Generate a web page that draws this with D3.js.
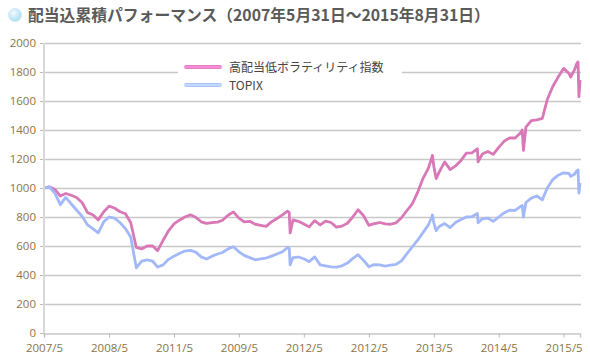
<!DOCTYPE html>
<html>
<head>
<meta charset="utf-8">
<script src="https://cdn.jsdelivr.net/npm/d3@7"></script>
<style>
  body { margin: 0; background: #fff; }
  svg text { font-family: "Noto Sans CJK JP", "Noto Sans", sans-serif; }
</style>
</head>
<body>
<svg id="chart" width="590" height="360"></svg>
<script>
// Data
const dates = [
  "2007-05-31","2007-06-30","2007-07-31","2007-08-31","2007-09-30","2007-10-31","2007-11-30","2007-12-31",
  "2008-01-31","2008-02-29","2008-03-31","2008-04-30","2008-05-31","2008-06-30","2008-07-31","2008-08-31",
  "2008-09-30","2008-10-31","2008-11-30","2008-12-31","2009-01-31","2009-02-28","2009-03-31","2009-04-30",
  "2009-05-31","2009-06-30","2009-07-31","2009-08-31","2009-09-30","2009-10-31","2009-11-30","2009-12-31",
  "2010-01-31","2010-02-28","2010-03-31","2010-04-30","2010-05-31","2010-06-30","2010-07-31","2010-08-31",
  "2010-09-30","2010-10-31","2010-11-30","2010-12-31","2011-01-31","2011-02-28","2011-03-10","2011-03-15",
  "2011-03-31","2011-04-30","2011-05-31","2011-06-30","2011-07-31","2011-08-31","2011-09-30","2011-10-31",
  "2011-11-30","2011-12-31","2012-01-31","2012-02-29","2012-03-31","2012-04-30","2012-05-31","2012-06-30",
  "2012-07-31","2012-08-31","2012-09-30","2012-10-31","2012-11-30","2012-12-31","2013-01-31","2013-02-28",
  "2013-03-31","2013-04-30","2013-05-20","2013-05-23","2013-05-31","2013-06-13","2013-06-30","2013-07-31",
  "2013-08-31","2013-09-30","2013-10-31","2013-11-30","2013-12-31","2014-01-31","2014-02-04","2014-02-28",
  "2014-03-31","2014-04-30","2014-05-31","2014-06-30","2014-07-31","2014-08-31","2014-09-30","2014-10-10",
  "2014-10-17","2014-10-31","2014-11-30","2014-12-31","2015-01-31","2015-02-28","2015-03-31","2015-04-30",
  "2015-05-31","2015-06-30","2015-07-10","2015-07-31","2015-08-12","2015-08-20","2015-08-25","2015-08-31"
];

const highDividend = [
  1000,1008,990,945,962,950,935,900,
  830,815,780,835,875,862,836,822,
  760,590,580,600,600,568,640,705,
  752,778,800,815,798,767,756,762,
  765,778,812,835,792,766,770,750,
  743,735,766,790,815,840,830,690,
  780,770,752,732,775,745,772,762,
  730,737,757,798,850,810,742,755,
  762,752,750,760,795,845,893,968,
  1065,1135,1210,1225,1150,1065,1110,1180,
  1127,1152,1190,1240,1242,1270,1180,1235,
  1252,1232,1280,1322,1345,1345,1380,1400,
  1260,1420,1465,1470,1480,1610,1700,1765,
  1825,1790,1765,1815,1855,1870,1630,1745
];

const topix = [
  1000,1007,965,885,935,890,848,805,
  745,720,690,765,800,792,762,720,
  660,450,495,505,495,455,470,508,
  530,548,565,570,558,525,510,530,
  545,555,580,595,560,535,520,505,
  511,517,530,545,560,590,585,470,
  520,524,512,492,525,470,463,456,
  455,463,482,513,540,502,457,472,
  470,462,468,474,497,548,595,638,
  692,745,800,815,760,705,735,755,
  727,762,783,800,802,825,760,788,
  793,770,800,828,847,845,872,880,
  800,900,930,945,918,1000,1058,1088,
  1105,1100,1080,1095,1118,1125,965,1035
];

const seriesNames = ["高配当低ボラティリティ指数", "TOPIX"];
const seriesColors = ["#d978b6", "#a3b8f8"];

const xTickDates = ["2007-05-31","2008-05-31","2009-05-31","2010-05-31","2011-05-31","2012-05-31","2013-05-31","2014-05-31","2015-05-31"];
const xTickLabels = ["2007/5","2008/5","2011/5","2009/5","2012/5","2012/5","2013/5","2014/5","2015/5"];
const yTicks = [0,200,400,600,800,1000,1200,1400,1600,1800,2000];

const titleText = "配当込累積パフォーマンス（2007年5月31日～2015年8月31日）";

// Setup
const parse = d3.timeParse("%Y-%m-%d");
const svg = d3.select("#chart");

const margin = { top: 43, right: 9, bottom: 27, left: 44 };
const width = 590 - margin.left - margin.right;
const height = 360 - margin.top - margin.bottom;

const xScale = d3.scaleTime()
  .domain([parse("2007-05-31"), parse("2015-08-31")])
  .range([0, width - 1]);

const yScale = d3.scaleLinear().domain([0, 2000]).range([height, 0]);

// gradients for the title bullet and legend swatches
const defs = svg.append("defs");
const bullet = defs.append("radialGradient").attr("id", "bullet")
  .attr("cx", "40%").attr("cy", "35%").attr("r", "65%");
bullet.append("stop").attr("offset", "0%").attr("stop-color", "#f4fcff");
bullet.append("stop").attr("offset", "100%").attr("stop-color", "#a9dcf0");

seriesColors.forEach((c, i) => {
  const g = defs.append("linearGradient").attr("id", "sw" + i)
    .attr("x1", 0).attr("y1", 0).attr("x2", 0).attr("y2", 1);
  g.append("stop").attr("offset", "0%").attr("stop-color", c);
  g.append("stop").attr("offset", "50%").attr("stop-color", d3.color(c).brighter(0.6));
  g.append("stop").attr("offset", "100%").attr("stop-color", c);
});

// Title
svg.append("circle").attr("cx", 15).attr("cy", 15).attr("r", 6.5)
  .attr("fill", "url(#bullet)").attr("stroke", "#c6e8f5").attr("stroke-width", 0.8);
svg.append("text")
  .attr("x", 28).attr("y", 20.5)
  .attr("font-size", "15.8px")
  .attr("font-weight", "bold")
  .attr("fill", "#5a5a5a")
  .text(titleText);

const chartArea = svg.append("g")
  .attr("transform", `translate(${margin.left},${margin.top})`);

// Grid lines + y ticks
chartArea.append("g")
  .selectAll("line")
  .data(yTicks.filter((d) => d > 0))
  .join("line")
  .attr("x1", 0).attr("x2", width)
  .attr("y1", (d) => yScale(d) + 0.5).attr("y2", (d) => yScale(d) + 0.5)
  .attr("stroke", "#c8c8c8").attr("stroke-width", 1.3);

const yAxis = chartArea.append("g")
  .call(d3.axisLeft(yScale).tickValues(yTicks).tickFormat(d3.format("d")).tickSize(4).tickPadding(4));
yAxis.select(".domain").remove();
yAxis.selectAll("line").attr("stroke", "#bbb");
yAxis.selectAll("text")
  .attr("fill", "#8a7448")
  .attr("font-size", "11.5px")
  .style("font-family", "'Open Sans', sans-serif");

// Series lines
const seriesData = [highDividend, topix];
const line = d3.line()
  .x((d, i) => xScale(parse(dates[i])))
  .y((d) => yScale(d));

seriesData.forEach((values, i) => {
  chartArea.append("path")
    .datum(values)
    .attr("fill", "none")
    .attr("stroke", seriesColors[i])
    .attr("stroke-width", 2.8)
    .attr("stroke-linejoin", "round")
    .attr("d", line);
});

// y axis line
chartArea.append("line")
  .attr("x1", 0).attr("x2", 0).attr("y1", 0).attr("y2", height)
  .attr("stroke", "#d8d8d8").attr("stroke-width", 2);

// x axis
const xAxis = chartArea.append("g")
  .attr("transform", `translate(0,${height + 0.5})`)
  .call(
    d3.axisBottom(xScale)
      .tickValues(xTickDates.map(parse))
      .tickFormat((d, i) => xTickLabels[i])
      .tickSizeOuter(0)
      .tickSize(4)
      .tickPadding(6)
  );
xAxis.select(".domain").attr("stroke", "#c8c8c8").attr("stroke-width", 1.5);
xAxis.selectAll("line").attr("stroke", "#bbb");
xAxis.selectAll("text")
  .attr("fill", "#8a7448")
  .attr("font-size", "11.5px")
  .style("font-family", "'Open Sans', sans-serif");

// Legend
const legend = svg.append("g").attr("transform", "translate(178,58)");
legend.append("rect").attr("width", 224).attr("height", 36).attr("fill", "#fff");
seriesNames.forEach((name, i) => {
  const row = legend.append("g").attr("transform", `translate(6,${9 + i * 18})`);
  row.append("rect")
    .attr("x", 0).attr("y", -2).attr("width", 38).attr("height", 4).attr("rx", 2)
    .attr("fill", `url(#sw${i})`);
  row.append("text")
    .attr("x", 45).attr("y", 4.5)
    .attr("font-size", "12px")
    .attr("fill", "#444")
    .text(name);
});
</script>
</body>
</html>
